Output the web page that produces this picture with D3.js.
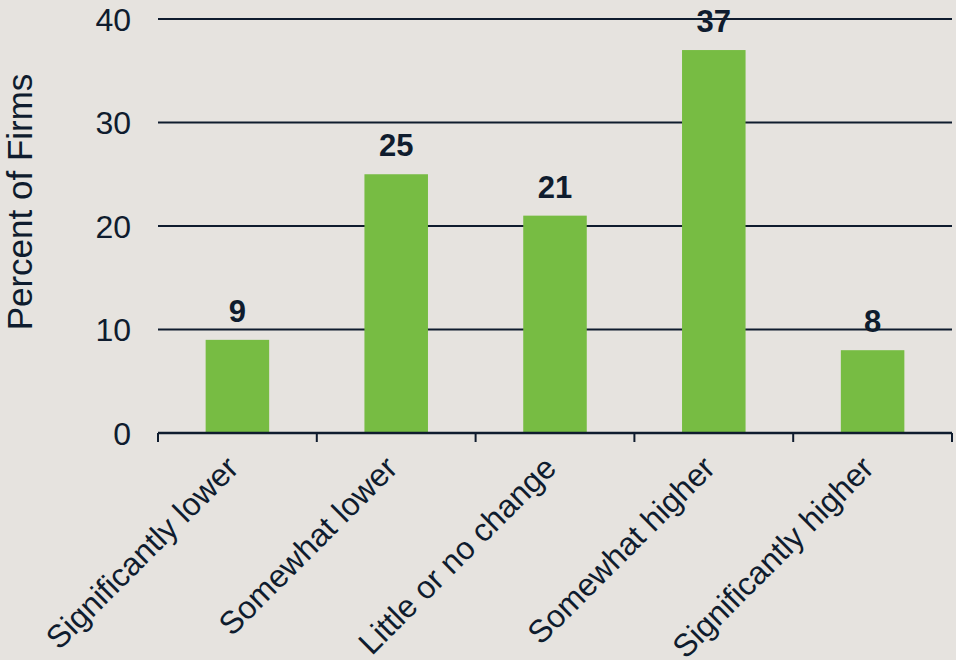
<!DOCTYPE html>
<html>
<head>
<meta charset="utf-8">
<script src="https://cdn.jsdelivr.net/npm/d3@7"></script>
<style>
  html, body { margin: 0; padding: 0; background: #e6e3df; }
  svg { display: block; font-family: "Liberation Sans", Arial, sans-serif; }
</style>
</head>
<body>
<svg id="chart" width="956" height="660"></svg>
<script>
// Survey responses: expected change, share of firms (%)
const categories = ["Significantly lower", "Somewhat lower", "Little or no change", "Somewhat higher", "Significantly higher"];
const percents = [9, 25, 21, 37, 8];
const yTicks = [0, 10, 20, 30, 40];

const ink = "#0f1c2e";
const barColor = "#77bc43";

const svg = d3.select("#chart");
const margin = { left: 158, right: 4, top: 19, bottom: 227 };
const W = 956, H = 660;
const x0 = margin.left, x1 = W - margin.right;
const y0 = H - margin.bottom, y1 = margin.top;

const x = d3.scaleBand().domain(categories).range([x0, x1]).paddingInner(0.6).paddingOuter(0.3);
const xEdges = d3.scaleBand().domain(categories).range([x0, x1]).padding(0);
const y = d3.scaleLinear().domain([0, 40]).range([y0, y1]);

// horizontal gridlines
svg.append("g")
  .selectAll("line")
  .data(yTicks.filter(t => t > 0))
  .join("line")
  .attr("x1", x0).attr("x2", x1)
  .attr("y1", d => y(d)).attr("y2", d => y(d))
  .attr("stroke", ink).attr("stroke-width", 2);

// y tick labels
svg.append("g")
  .selectAll("text")
  .data(yTicks)
  .join("text")
  .attr("x", 131)
  .attr("y", d => y(d))
  .attr("dy", "0.36em")
  .attr("text-anchor", "end")
  .attr("font-size", 32)
  .attr("fill", ink)
  .text(d => d);

// y axis title
svg.append("text")
  .attr("transform", `translate(32,202) rotate(-90)`)
  .attr("text-anchor", "middle")
  .attr("font-size", 35)
  .attr("fill", ink)
  .text("Percent of Firms");

// bars
svg.append("g")
  .selectAll("rect")
  .data(percents)
  .join("rect")
  .attr("x", (d, i) => x(categories[i]))
  .attr("width", x.bandwidth())
  .attr("y", d => y(d))
  .attr("height", d => y(0) - y(d))
  .attr("fill", barColor);

// value labels
svg.append("g")
  .selectAll("text")
  .data(percents)
  .join("text")
  .attr("x", (d, i) => x(categories[i]) + x.bandwidth() / 2)
  .attr("y", d => y(d) - 18)
  .attr("text-anchor", "middle")
  .attr("font-size", 31)
  .attr("font-weight", "bold")
  .attr("fill", ink)
  .text(d => d);

// x axis with ticks at category boundaries
const xAxis = svg.append("g");
xAxis.append("line")
  .attr("x1", x0).attr("x2", x1)
  .attr("y1", y0).attr("y2", y0)
  .attr("stroke", ink).attr("stroke-width", 2.5);
const edges = categories.map(c => xEdges(c)).concat([x1]);
xAxis.selectAll("line.tick")
  .data(edges)
  .join("line")
  .attr("class", "tick")
  .attr("x1", d => d).attr("x2", d => d)
  .attr("y1", y0).attr("y2", y0 + 9)
  .attr("stroke", ink).attr("stroke-width", 2);

// rotated category labels
svg.append("g")
  .selectAll("text")
  .data(categories)
  .join("text")
  .attr("transform", d => `translate(${x(d) + x.bandwidth() / 2 + 3},${y0 + 37}) rotate(-45)`)
  .attr("text-anchor", "end")
  .attr("font-size", 32)
  .attr("fill", ink)
  .text(d => d);
</script>
</body>
</html>
